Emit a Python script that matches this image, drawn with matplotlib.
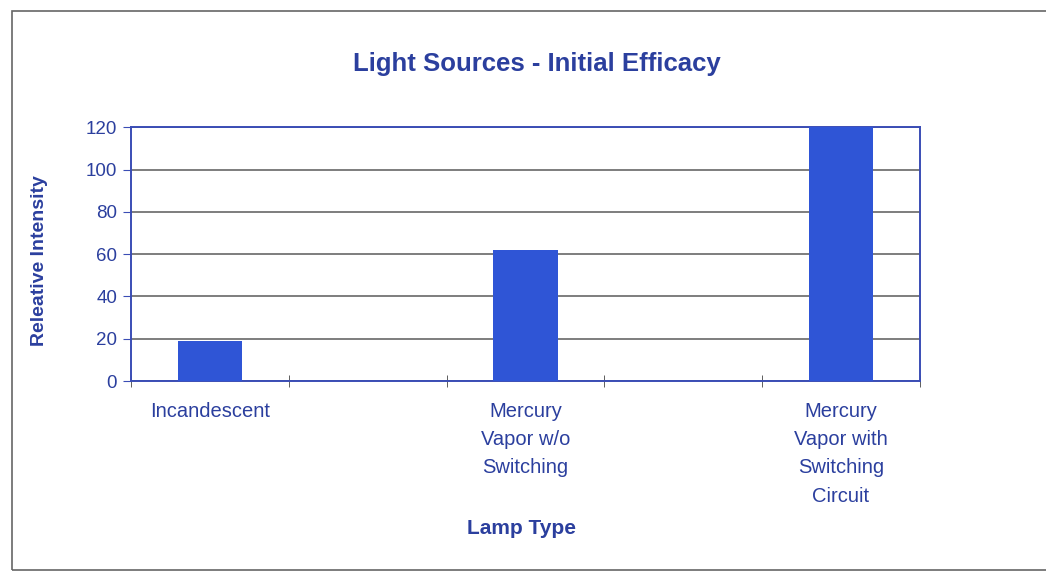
import numpy as np
import matplotlib.pyplot as plt
from matplotlib.patches import Rectangle

plt.rcParams['font.family'] = ['Liberation Sans', 'DejaVu Sans']

# lamp types and their relative initial efficacy
lamp_types = ["Incandescent",
              "Mercury\nVapor w/o\nSwitching",
              "Mercury\nVapor with\nSwitching\nCircuit"]
efficacy = [19, 62, 120]
y_ticks = [0, 20, 40, 60, 80, 100, 120]

text_blue = '#2b3f9e'
bar_blue = '#2f55d6'
axis_blue = '#3a4db5'

fig = plt.figure(figsize=(10.46, 5.73), dpi=100)
ax = fig.add_axes([0.1252, 0.335, 0.7543, 0.443])

# every lamp takes every other slot, leaving a gap between them
slots = np.arange(len(lamp_types)) * 2
ax.bar(slots, efficacy, width=0.41, color=bar_blue, zorder=3)

ax.set_xlim(-0.5, 2 * len(lamp_types) - 1.5)
ax.set_ylim(0, 120)
ax.set_yticks(y_ticks)
ax.yaxis.grid(True, color='#5a5a5a', linewidth=1.1, zorder=1)

ax.set_xticks(slots)
ax.set_xticklabels(lamp_types, linespacing=1.62)
ax.set_xticks(np.arange(-0.5, 2 * len(lamp_types) - 1, 1.0), minor=True)
ax.tick_params(axis='x', which='major', length=0, pad=15,
               labelsize=14.5, labelcolor=text_blue)
ax.tick_params(axis='x', which='minor', direction='inout', length=9,
               color='#444444')
ax.tick_params(axis='y', direction='out', length=6, color=axis_blue,
               labelsize=13.5, labelcolor=text_blue, pad=4)

for side in ax.spines.values():
    side.set_color(axis_blue)
    side.set_linewidth(1.4)

fig.text(0.513, 0.888, "Light Sources - Initial Efficacy", ha='center',
         va='center', fontsize=18.5, fontweight='bold', color=text_blue)
fig.text(0.499, 0.078, "Lamp Type", ha='center', va='center',
         fontsize=15, fontweight='bold', color=text_blue)
fig.text(0.038, 0.545, "Releative Intensity", ha='center', va='center',
         rotation=90, fontsize=14, fontweight='bold', color=text_blue)

# page frame around the chart
fig.patches.append(Rectangle((0.011, 0.005), 1.2, 0.975,
                             transform=fig.transFigure, fill=False,
                             edgecolor='#666666', linewidth=1.2))

fig.savefig('out.png', dpi=100)
